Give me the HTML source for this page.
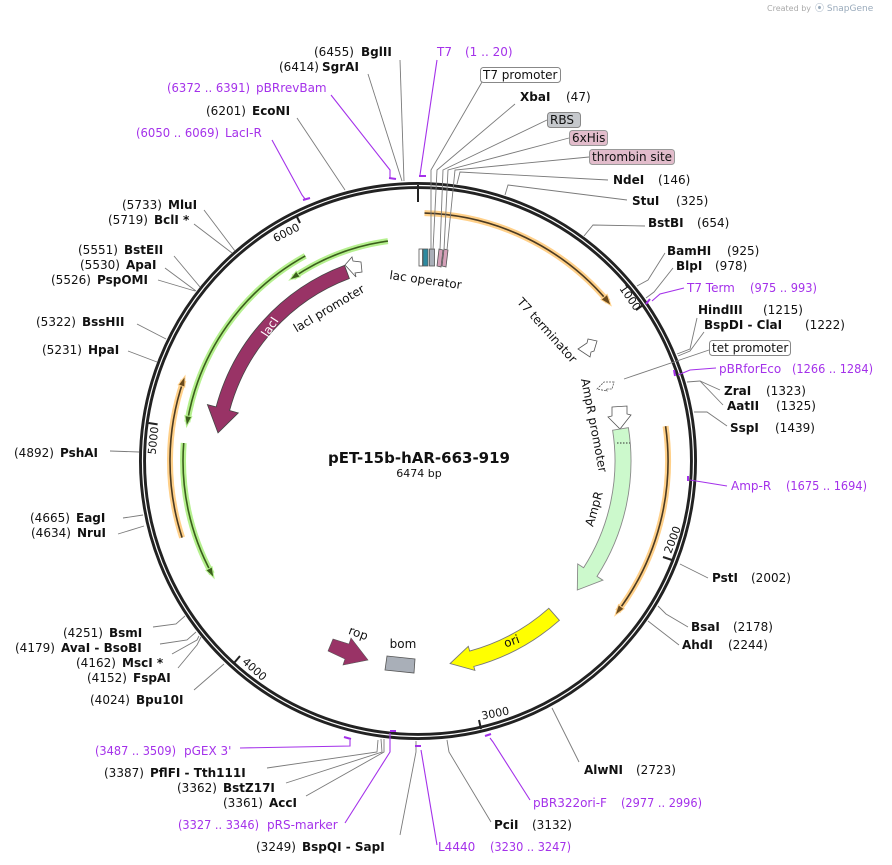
<!DOCTYPE html>
<html><head><meta charset="utf-8"><style>
html,body{margin:0;padding:0;background:#fff;}
svg{display:block;}
text{font-family:"DejaVu Sans","Liberation Sans",sans-serif;font-size:12px;fill:#111;}
.b{font-weight:bold;}
.p{fill:#a431ea;}
.s{font-size:11px;}
.ln{stroke:#7a7a7a;stroke-width:0.9;fill:none;}
.pl{stroke:#a431ea;stroke-width:1.1;fill:none;}
.pm{stroke:#a431ea;stroke-width:2;fill:none;}
</style></head><body>
<svg width="892" height="865" viewBox="0 0 892 865" xmlns="http://www.w3.org/2000/svg">
<text x="767" y="11" style="font-size:8px;fill:#aaa">Created by</text>
<text x="815" y="11" style="font-size:9px;fill:#9ab">⦿ SnapGene</text>

<!-- ring -->
<circle cx="418" cy="461" r="275.5" fill="none" stroke="#222" stroke-width="7"/>
<circle cx="418" cy="461" r="275.5" fill="none" stroke="#fff" stroke-width="1.2"/>
<!-- ticks -->
<g stroke="#222" stroke-width="2">
<line x1="418" y1="185" x2="418" y2="202"/>
<line x1="643" y1="305" x2="636" y2="310"/>
<line x1="672" y1="560" x2="663" y2="557"/>
<line x1="481" y1="729" x2="479" y2="720"/>
<line x1="234" y1="663" x2="240" y2="656"/>
<line x1="148.6" y1="423" x2="157.6" y2="424.4"/>
<line x1="296" y1="215" x2="300" y2="223"/>
</g>
<g class="s">
<text transform="translate(627,300) rotate(55)" text-anchor="middle" class="s">1000</text>
<text transform="translate(676,541) rotate(-69)" text-anchor="middle" class="s">2000</text>
<text transform="translate(496,717) rotate(-11)" text-anchor="middle" class="s">3000</text>
<text transform="translate(252,672) rotate(42)" text-anchor="middle" class="s">4000</text>
<text transform="translate(157,441) rotate(-84)" text-anchor="middle" class="s">5000</text>
<text transform="translate(288,236) rotate(-27)" text-anchor="middle" class="s">6000</text>
</g>

<!-- orange arcs -->
<g fill="none">
<path d="M424.5,213.1 A248,248 0 0 1 608,301.6" stroke="#ffd089" stroke-width="6"/>
<path d="M424.5,213.1 A248,248 0 0 1 608,301.6" stroke="#4a3a22" stroke-width="1.6"/>
<path d="M665.6,426.2 A250,250 0 0 1 617.7,611.5" stroke="#ffd089" stroke-width="6"/>
<path d="M665.6,426.2 A250,250 0 0 1 617.7,611.5" stroke="#4a3a22" stroke-width="1.6"/>
<path d="M182.1,537.6 A248,248 0 0 1 183.5,380.3" stroke="#ffd089" stroke-width="6"/>
<path d="M182.1,537.6 A248,248 0 0 1 183.5,380.3" stroke="#4a3a22" stroke-width="1.6"/>
<!-- green arcs -->
<path d="M387.9,241.1 A222,222 0 0 0 293.2,277.4" stroke="#b5f08e" stroke-width="6"/>
<path d="M387.9,241.1 A222,222 0 0 0 293.2,277.4" stroke="#3b5e1c" stroke-width="1.6"/>
<path d="M305.3,255.9 A234,234 0 0 0 187.3,422" stroke="#b5f08e" stroke-width="6"/>
<path d="M305.3,255.9 A234,234 0 0 0 187.3,422" stroke="#3b5e1c" stroke-width="1.6"/>
<path d="M183.7,443 A235,235 0 0 0 211.9,573.8" stroke="#b5f08e" stroke-width="6"/>
<path d="M183.7,443 A235,235 0 0 0 211.9,573.8" stroke="#3b5e1c" stroke-width="1.6"/>
</g>
<g stroke-width="1">
<polygon points="611,305.5 607.2,294.4 601,299.6" fill="#6b4a1c" stroke="#ffd089"/>
<polygon points="615,615.5 624.1,608.8 618.5,604.6" fill="#6b4a1c" stroke="#ffd089"/>
<polygon points="185,376 178.2,384.9 184.8,387.1" fill="#6b4a1c" stroke="#ffd089"/>
<polygon points="289.5,280 296.2,271.1 300.2,276.9" fill="#3b5e1c" stroke="#b5f08e"/>
<polygon points="186.6,426.5 184.9,415.5 191.8,416.7" fill="#3b5e1c" stroke="#b5f08e"/>
<polygon points="214,578 205.9,570.2 212.1,566.8" fill="#3b5e1c" stroke="#b5f08e"/>
</g>

<!-- lacI -->
<path d="M344.5,265.4 A209,209 0 0 0 216.1,406.9 L207.4,404.6 L218,432.9 L238.3,412.9 L229.6,410.5 A195,195 0 0 1 349.4,278.5 Z" fill="#993366" stroke="#444" stroke-width="0.8"/>
<text transform="translate(270,327) rotate(-57)" text-anchor="middle" dominant-baseline="central" style="fill:#fff;font-size:12px">lacI</text>
<text transform="translate(331,312) rotate(-31)" text-anchor="middle">lacI promoter</text>
<polygon points="345,265 352,257 353,261 361,262 362,272 355,273 356,277" fill="#fff" stroke="#555" stroke-width="0.8"/>

<!-- lac operator features -->
<g stroke="#555" stroke-width="0.8">
<rect x="419" y="249" width="3.5" height="17" fill="#fff"/>
<rect x="423" y="249" width="5" height="17" fill="#2e8aa0"/>
<rect x="429.5" y="249" width="5" height="17" fill="#a9afb8"/>
<polygon points="439,249 443,250 441,267 437,266" fill="#d4a0b8"/>
<polygon points="444,249 448,250 446,267 442,266" fill="#d4a0b8"/>
</g>
<text transform="translate(425,284) rotate(8)" text-anchor="middle">lac operator</text>

<!-- T7 terminator / AmpR promoter -->
<text transform="translate(544,333) rotate(48)" text-anchor="middle">T7 terminator</text>
<path d="M597,341 L588,339 L587,343 L578,349 L590,357 L591,352 L594,351 Z" fill="#fff" stroke="#555" stroke-width="0.8"/>
<path d="M614,382 L604,382 L597,389 L607,391 L606,389 L612,389 Z" fill="#fff" stroke="#555" stroke-width="0.8" stroke-dasharray="2,1"/>
<text transform="translate(590,426) rotate(79)" text-anchor="middle">AmpR promoter</text>
<polygon points="612,407 627,406 627,414 631,415 620,429 608,417 612,416" fill="#fff" stroke="#555" stroke-width="0.8"/>

<!-- AmpR -->
<path d="M628.4,427.7 A213,213 0 0 1 597,576.4 L602.9,580.2 L577.3,590 L577.7,563.9 L583.6,567.7 A197,197 0 0 0 612.6,430.2 Z" fill="#ccf9cc" stroke="#888" stroke-width="0.9"/>
<line x1="617" y1="443" x2="630" y2="443" stroke="#333" stroke-dasharray="1.5,1.5"/>
<text transform="translate(598,510) rotate(-74)" text-anchor="middle">AmpR</text>

<!-- ori -->
<path d="M559.4,620.3 A213,213 0 0 1 473.8,666.5 L474.9,670.4 L450.1,663.5 L468.3,646.3 L469.7,651.1 A197,197 0 0 0 548.8,608.3 Z" fill="#ffff00" stroke="#777" stroke-width="0.9"/>
<text transform="translate(513,645) rotate(-20)" text-anchor="middle">ori</text>

<!-- rop / bom -->
<polygon points="328,651 333,639 349,644 351,638 368,660 343,665 345,659" fill="#993366" stroke="#555" stroke-width="0.6"/>
<text transform="translate(357,637) rotate(20)" text-anchor="middle">rop</text>
<polygon points="387,656 415,659 414,673 385,670" fill="#a9afb8" stroke="#555" stroke-width="0.8"/>
<text x="403" y="648" text-anchor="middle">bom</text>

<!-- center -->
<text x="419" y="463" text-anchor="middle" class="b" style="font-size:15px">pET-15b-hAR-663-919</text>
<text x="419" y="477" text-anchor="middle" class="s">6474 bp</text>

<!-- connector lines -->
<g class="ln">
<line x1="400" y1="60" x2="404" y2="181"/>
<line x1="368" y1="74" x2="402" y2="181"/>
<line x1="297" y1="118" x2="345" y2="190"/>
<polyline points="482,82 431,170 431,250"/>
<polyline points="515,104 437,170 433,250"/>
<polyline points="547,120 443,170 440,250"/>
<polyline points="569,138 448,170 444,250"/>
<polyline points="589,157 455,170 447,250"/>
<polyline points="608,180 460,172 457,184"/>
<polyline points="627,200 508,185 505,195"/>
<polyline points="645,226 593,225 584,236"/>
<polyline points="665,253 648,280 637,286"/>
<polyline points="673,268 654,292 646,298"/>
<polyline points="697,318 690,349 677,354"/>
<polyline points="704,332 690,351 678,356"/>
<line x1="709" y1="350" x2="624" y2="379"/>
<polyline points="720,390 700,381 687,382"/>
<polyline points="723,405 700,381"/>
<polyline points="727,426 707,412 694,412"/>
<line x1="708" y1="578" x2="680" y2="564"/>
<polyline points="688,627 666,614 658,606"/>
<polyline points="679,645 657,628 648,621"/>
<line x1="579" y1="762" x2="552" y2="708"/>
<polyline points="491,822 449,752 447,740"/>
<polyline points="400,835 416,752 416,741"/>
<polyline points="306,796 384,752 384,739"/>
<polyline points="286,783 382,752 381,739"/>
<polyline points="267,768 377,752 378,740"/>
<polyline points="194,690 224,664"/>
<polyline points="178,668 197,645 201,637"/>
<polyline points="172,654 197,640 199,636"/>
<polyline points="160,644 187,640 196,632"/>
<polyline points="153,627 176,624 185,616"/>
<line x1="118" y1="534" x2="144" y2="526"/>
<line x1="123" y1="518" x2="143" y2="515"/>
<line x1="110" y1="451" x2="139" y2="452"/>
<line x1="128" y1="351" x2="157" y2="362"/>
<line x1="137" y1="324" x2="166" y2="339"/>
<line x1="158" y1="280" x2="195" y2="291"/>
<line x1="165" y1="268" x2="196" y2="291"/>
<line x1="174" y1="256" x2="200" y2="287"/>
<line x1="194" y1="224" x2="232" y2="253"/>
<line x1="204" y1="210" x2="235" y2="251"/>
</g>
<g class="pl">
<polyline points="331,95 390,170 390,178"/>
<polyline points="272,140 302,195 305,199"/>
<line x1="437" y1="60" x2="420" y2="175"/>
<polyline points="684,288 660,294 652,301"/>
<polyline points="716,368 690,370 678,375"/>
<line x1="727" y1="486" x2="690" y2="480"/>
<polyline points="530,800 493,742 490,738"/>
<polyline points="437,845 421,750"/>
<polyline points="345,823 390,752 390,733"/>
<polyline points="240,748 350,746 350,740"/>
</g>
<g class="pm">
<line x1="389" y1="178" x2="396" y2="179"/>
<line x1="419" y1="176" x2="426" y2="176"/>
<line x1="303" y1="200" x2="310" y2="198"/>
<line x1="646" y1="304" x2="650" y2="299"/>
<line x1="674" y1="370" x2="675" y2="376"/>
<line x1="688" y1="476" x2="688" y2="481"/>
<line x1="485" y1="736" x2="491" y2="734"/>
<line x1="415" y1="746" x2="421" y2="746"/>
<line x1="390" y1="731" x2="396" y2="731"/>
<line x1="344" y1="737" x2="351" y2="739"/>
</g>

<!-- boxes -->
<rect x="480.5" y="67.5" width="80" height="15" rx="3" fill="#fff" stroke="#888"/>
<text x="483" y="79">T7 promoter</text>
<rect x="547.5" y="112.5" width="33" height="15" rx="3" fill="#c5c8cc" stroke="#888"/>
<text x="550" y="124">RBS</text>
<rect x="569.5" y="130.5" width="38" height="15" rx="3" fill="#e2bccb" stroke="#999"/>
<text x="572" y="142">6xHis</text>
<rect x="589.5" y="149.5" width="85" height="15" rx="3" fill="#e2bccb" stroke="#999"/>
<text x="592" y="161">thrombin site</text>
<rect x="709.5" y="340.5" width="81" height="15" rx="3" fill="#fff" stroke="#888"/>
<text x="712" y="352">tet promoter</text>

<!-- labels top -->
<text x="314" y="56">(6455)</text><text x="361" y="56" class="b">BglII</text>
<text x="279" y="71">(6414)</text><text x="322" y="71" class="b">SgrAI</text>
<text x="167" y="92" class="p" textLength="83" lengthAdjust="spacingAndGlyphs">(6372 .. 6391)</text><text x="256" y="92" class="p">pBRrevBam</text>
<text x="206" y="115">(6201)</text><text x="252" y="115" class="b">EcoNI</text>
<text x="136" y="137" class="p" textLength="83" lengthAdjust="spacingAndGlyphs">(6050 .. 6069)</text><text x="225" y="137" class="p">LacI-R</text>
<text x="437" y="56" class="p">T7</text><text x="465" y="56" class="p">(1 .. 20)</text>
<text x="520" y="101" class="b">XbaI</text><text x="566" y="101">(47)</text>
<text x="613" y="184" class="b">NdeI</text><text x="658" y="184">(146)</text>
<text x="632" y="205" class="b">StuI</text><text x="676" y="205">(325)</text>
<text x="648" y="227" class="b">BstBI</text><text x="697" y="227">(654)</text>
<!-- right -->
<text x="667" y="255" class="b">BamHI</text><text x="727" y="255">(925)</text>
<text x="676" y="270" class="b">BlpI</text><text x="715" y="270">(978)</text>
<text x="687" y="292" class="p">T7 Term</text><text x="750" y="292" class="p" textLength="67" lengthAdjust="spacingAndGlyphs">(975 .. 993)</text>
<text x="698" y="314" class="b">HindIII</text><text x="763" y="314">(1215)</text>
<text x="704" y="329" class="b">BspDI  - ClaI</text><text x="805" y="329">(1222)</text>
<text x="719" y="373" class="p">pBRforEco</text><text x="792" y="373" class="p" textLength="81" lengthAdjust="spacingAndGlyphs">(1266 .. 1284)</text>
<text x="724" y="395" class="b">ZraI</text><text x="766" y="395">(1323)</text>
<text x="727" y="410" class="b">AatII</text><text x="776" y="410">(1325)</text>
<text x="730" y="432" class="b">SspI</text><text x="775" y="432">(1439)</text>
<text x="731" y="490" class="p">Amp-R</text><text x="786" y="490" class="p" textLength="81" lengthAdjust="spacingAndGlyphs">(1675 .. 1694)</text>
<text x="712" y="582" class="b">PstI</text><text x="751" y="582">(2002)</text>
<text x="691" y="631" class="b">BsaI</text><text x="733" y="631">(2178)</text>
<text x="682" y="649" class="b">AhdI</text><text x="728" y="649">(2244)</text>
<text x="584" y="774" class="b">AlwNI</text><text x="636" y="774">(2723)</text>
<text x="533" y="807" class="p">pBR322ori-F</text><text x="621" y="807" class="p" textLength="81" lengthAdjust="spacingAndGlyphs">(2977 .. 2996)</text>
<text x="494" y="829" class="b">PciI</text><text x="532" y="829">(3132)</text>
<text x="438" y="851" class="p">L4440</text><text x="490" y="851" class="p" textLength="81" lengthAdjust="spacingAndGlyphs">(3230 .. 3247)</text>
<!-- bottom left -->
<text x="256" y="851">(3249)</text><text x="302" y="851" class="b">BspQI  - SapI</text>
<text x="178" y="829" class="p" textLength="81" lengthAdjust="spacingAndGlyphs">(3327 .. 3346)</text><text x="267" y="829" class="p">pRS-marker</text>
<text x="223" y="807">(3361)</text><text x="269" y="807" class="b">AccI</text>
<text x="177" y="792">(3362)</text><text x="223" y="792" class="b">BstZ17I</text>
<text x="104" y="777">(3387)</text><text x="150" y="777" class="b">PflFI  - Tth111I</text>
<text x="95" y="755" class="p" textLength="81" lengthAdjust="spacingAndGlyphs">(3487 .. 3509)</text><text x="184" y="755" class="p">pGEX 3'</text>
<text x="90" y="704">(4024)</text><text x="136" y="704" class="b">Bpu10I</text>
<text x="87" y="682">(4152)</text><text x="133" y="682" class="b">FspAI</text>
<text x="76" y="667">(4162)</text><text x="122" y="667" class="b">MscI *</text>
<text x="15" y="652">(4179)</text><text x="61" y="652" class="b">AvaI  - BsoBI</text>
<text x="63" y="637">(4251)</text><text x="109" y="637" class="b">BsmI</text>
<!-- left -->
<text x="30" y="522">(4665)</text><text x="76" y="522" class="b">EagI</text>
<text x="31" y="537">(4634)</text><text x="77" y="537" class="b">NruI</text>
<text x="14" y="457">(4892)</text><text x="60" y="457" class="b">PshAI</text>
<text x="42" y="354">(5231)</text><text x="88" y="354" class="b">HpaI</text>
<text x="36" y="326">(5322)</text><text x="82" y="326" class="b">BssHII</text>
<text x="51" y="284">(5526)</text><text x="97" y="284" class="b">PspOMI</text>
<text x="80" y="269">(5530)</text><text x="126" y="269" class="b">ApaI</text>
<text x="78" y="254">(5551)</text><text x="124" y="254" class="b">BstEII</text>
<text x="108" y="224">(5719)</text><text x="154" y="224" class="b">BclI *</text>
<text x="122" y="209">(5733)</text><text x="168" y="209" class="b">MluI</text>
</svg>
</body></html>
